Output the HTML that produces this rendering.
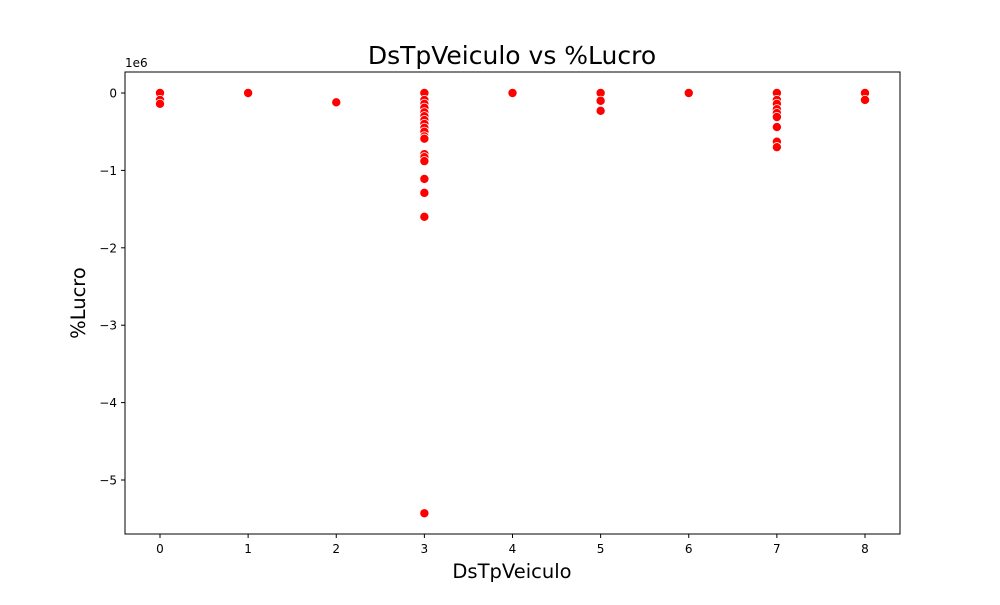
<!DOCTYPE html>
<html><head><meta charset="utf-8"><style>
body{margin:0;background:#fff;font-family:"Liberation Sans","DejaVu Sans",sans-serif}
svg text{font-family:"DejaVu Sans","Liberation Sans",sans-serif}
</style></head><body>
<svg id="chart" width="1000" height="600">
<rect width="1000" height="600" fill="#fff"/>
<text x="512" y="64" font-size="25" text-anchor="middle">DsTpVeiculo vs %Lucro</text>
<g id="axes"></g>
<g id="points"></g>
<rect x="125" y="72" width="775" height="462" fill="none" stroke="#000" stroke-width="1"/>
<text x="512" y="578" font-size="19.5" text-anchor="middle">DsTpVeiculo</text>
<text transform="translate(85,303) rotate(-90)" font-size="19.5" text-anchor="middle">%Lucro</text>
<text x="125" y="67" font-size="12">1e6</text>
</svg>
<script>
const xCats = [0,0,0,1,2,3,3,3,3,3,3,3,3,3,3,3,3,3,3,3,3,3,3,3,4,5,5,5,6,7,7,7,7,7,7,7,7,7,8,8];
const yVals = [0,-0.09,-0.14,0,-0.12,0,-0.09,-0.14,-0.19,-0.25,-0.30,-0.35,-0.40,-0.45,-0.50,-0.56,-0.59,-0.79,-0.83,-0.88,-1.11,-1.29,-1.60,-5.43,0,0,-0.10,-0.23,0,0,-0.09,-0.14,-0.21,-0.26,-0.31,-0.44,-0.63,-0.70,0,-0.09];
const xTicks = [0,1,2,3,4,5,6,7,8];
const yTicks = [0,-1,-2,-3,-4,-5];
const yTickLabels = ["0","\u22121","\u22122","\u22123","\u22124","\u22125"];
const NS="http://www.w3.org/2000/svg";
function sx(v){return 160+v*88.125;}
function sy(v){return 93-v*77.4;}
const axes=document.getElementById('axes');
xTicks.forEach(t=>{
  const l=document.createElementNS(NS,'line');
  l.setAttribute('x1',sx(t));l.setAttribute('x2',sx(t));l.setAttribute('y1',534);l.setAttribute('y2',538);l.setAttribute('stroke','#000');
  
  
  axes.appendChild(l);
  const tx=document.createElementNS(NS,'text');
  tx.setAttribute('x',sx(t));tx.setAttribute('y',553);tx.setAttribute('font-size','12');tx.setAttribute('text-anchor','middle');
  tx.textContent=t;
  
  
  axes.appendChild(tx);
});
yTicks.forEach((t,i)=>{
  const l=document.createElementNS(NS,'line');
  l.setAttribute('x1',121);l.setAttribute('x2',125);l.setAttribute('y1',sy(t));l.setAttribute('y2',sy(t));l.setAttribute('stroke','#000');
  
  
  axes.appendChild(l);
  const tx=document.createElementNS(NS,'text');
  tx.setAttribute('x',117);tx.setAttribute('y',sy(t)+4.5);tx.setAttribute('font-size','12');tx.setAttribute('text-anchor','end');
  tx.textContent=yTickLabels[i];
  
  
  axes.appendChild(tx);
});
const pts=document.getElementById('points');
xCats.forEach((x,i)=>{
  const c=document.createElementNS(NS,'circle');
  c.setAttribute('cx',sx(x));c.setAttribute('cy',sy(yVals[i]));c.setAttribute('r',4.6);
  c.setAttribute('fill','#ff0000');c.setAttribute('stroke','#fff');c.setAttribute('stroke-width','0.8');
  
  
  pts.appendChild(c);
});
</script>
</body></html>
